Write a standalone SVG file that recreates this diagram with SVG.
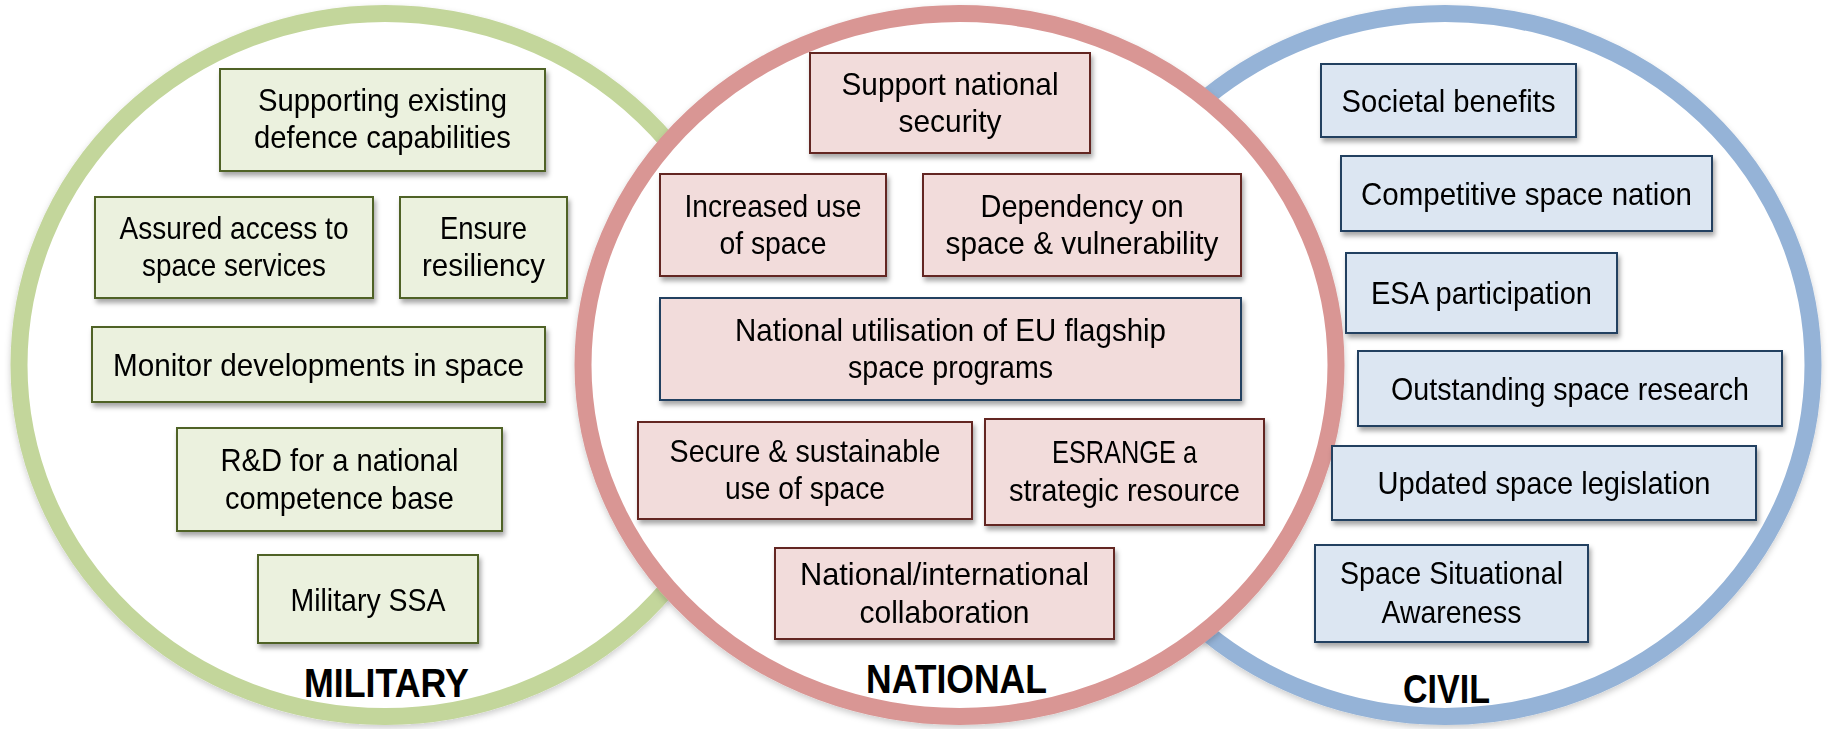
<svg xmlns="http://www.w3.org/2000/svg" width="1829" height="729" viewBox="0 0 1829 729">
<defs>
<filter id="sh" x="-10%" y="-10%" width="125%" height="135%">
<feDropShadow dx="2" dy="4" stdDeviation="2.5" flood-color="#000" flood-opacity="0.35"/>
</filter>
<filter id="csh" x="-5%" y="-5%" width="110%" height="112%">
<feDropShadow dx="0" dy="3" stdDeviation="3" flood-color="#000" flood-opacity="0.2"/>
</filter>
</defs>
<style>
.ring{stroke-width:17;fill:#fff}
.g{fill:#EBF1DE;stroke:#4F6228;stroke-width:2}
.r{fill:#F2DCDB;stroke:#632523;stroke-width:2}
.rb{fill:#F2DCDB;stroke:#243F60;stroke-width:2}
.b{fill:#DCE6F2;stroke:#243F60;stroke-width:2}
.box{filter:url(#sh)}
text{font-family:"Liberation Sans",Arial,sans-serif;font-size:30.5px;fill:#000;text-anchor:middle}
.lbl{font-weight:bold;font-size:40px}
</style>
<rect width="1829" height="729" fill="#fff"/>
<g id="circle-military" filter="url(#csh)"><ellipse class="ring" cx="385" cy="365" rx="366" ry="351.5" stroke="#C3D69B"/></g>
<g id="circle-civil" filter="url(#csh)"><ellipse class="ring" cx="1445" cy="365" rx="368" ry="351.5" stroke="#95B3D7"/></g>
<g id="circle-national" filter="url(#csh)"><ellipse class="ring" cx="959.5" cy="365" rx="376.5" ry="351.5" stroke="#D99694"/></g>
<g id="connectors"/>
<g id="m1" class="box"><rect class="g" x="220" y="69" width="325" height="102"/><text x="382.5" y="111" textLength="249" lengthAdjust="spacingAndGlyphs">Supporting existing</text><text x="382.5" y="148" textLength="257" lengthAdjust="spacingAndGlyphs">defence capabilities</text></g>
<g id="m2" class="box"><rect class="g" x="95" y="197" width="278" height="101"/><text x="234" y="238.5" textLength="229" lengthAdjust="spacingAndGlyphs">Assured access to</text><text x="234" y="276" textLength="184" lengthAdjust="spacingAndGlyphs">space services</text></g>
<g id="m3" class="box"><rect class="g" x="400" y="197" width="167" height="101"/><text x="483.5" y="238.5" textLength="87" lengthAdjust="spacingAndGlyphs">Ensure</text><text x="483.5" y="276" textLength="123" lengthAdjust="spacingAndGlyphs">resiliency</text></g>
<g id="m4" class="box"><rect class="g" x="92" y="327" width="453" height="75"/><text x="318.5" y="376" textLength="411" lengthAdjust="spacingAndGlyphs">Monitor developments in space</text></g>
<g id="m5" class="box"><rect class="g" x="177" y="428" width="325" height="103"/><text x="339.5" y="470.5" textLength="238" lengthAdjust="spacingAndGlyphs">R&amp;D for a national</text><text x="339.5" y="508.5" textLength="229" lengthAdjust="spacingAndGlyphs">competence base</text></g>
<g id="m6" class="box"><rect class="g" x="258" y="555" width="220" height="88"/><text x="368" y="610.5" textLength="155" lengthAdjust="spacingAndGlyphs">Military SSA</text></g>
<g id="n1" class="box"><rect class="r" x="810" y="53" width="280" height="100"/><text x="950" y="94.5" textLength="217" lengthAdjust="spacingAndGlyphs">Support national</text><text x="950" y="132" textLength="103" lengthAdjust="spacingAndGlyphs">security</text></g>
<g id="n2" class="box"><rect class="r" x="660" y="174" width="226" height="102"/><text x="773" y="216.5" textLength="177" lengthAdjust="spacingAndGlyphs">Increased use</text><text x="773" y="254" textLength="107" lengthAdjust="spacingAndGlyphs">of space</text></g>
<g id="n3" class="box"><rect class="r" x="923" y="174" width="318" height="102"/><text x="1082" y="216.5" textLength="203" lengthAdjust="spacingAndGlyphs">Dependency on</text><text x="1082" y="254" textLength="273" lengthAdjust="spacingAndGlyphs">space &amp; vulnerability</text></g>
<g id="n4" class="box"><rect class="rb" x="660" y="298" width="581" height="102"/><text x="950.5" y="340.5" textLength="431" lengthAdjust="spacingAndGlyphs">National utilisation of EU flagship</text><text x="950.5" y="378" textLength="205" lengthAdjust="spacingAndGlyphs">space programs</text></g>
<g id="n5" class="box"><rect class="r" x="638" y="422" width="334" height="97"/><text x="805" y="461.5" textLength="271" lengthAdjust="spacingAndGlyphs">Secure &amp; sustainable</text><text x="805" y="499" textLength="160" lengthAdjust="spacingAndGlyphs">use of space</text></g>
<g id="n6" class="box"><rect class="r" x="985" y="419" width="279" height="106"/><text x="1124.5" y="463" textLength="145" lengthAdjust="spacingAndGlyphs">ESRANGE a</text><text x="1124.5" y="501" textLength="231" lengthAdjust="spacingAndGlyphs">strategic resource</text></g>
<g id="n7" class="box"><rect class="r" x="775" y="548" width="339" height="91"/><text x="944.5" y="584.5" textLength="289" lengthAdjust="spacingAndGlyphs">National/international</text><text x="944.5" y="622.5" textLength="170" lengthAdjust="spacingAndGlyphs">collaboration</text></g>
<g id="c1" class="box"><rect class="b" x="1321" y="64" width="255" height="73"/><text x="1448.5" y="111.5" textLength="214" lengthAdjust="spacingAndGlyphs">Societal benefits</text></g>
<g id="c2" class="box"><rect class="b" x="1341" y="156" width="371" height="75"/><text x="1526.5" y="204.5" textLength="331" lengthAdjust="spacingAndGlyphs">Competitive space nation</text></g>
<g id="c3" class="box"><rect class="b" x="1346" y="253" width="271" height="80"/><text x="1481.5" y="304" textLength="221" lengthAdjust="spacingAndGlyphs">ESA participation</text></g>
<g id="c4" class="box"><rect class="b" x="1358" y="351" width="424" height="75"/><text x="1570" y="400" textLength="358" lengthAdjust="spacingAndGlyphs">Outstanding space research</text></g>
<g id="c5" class="box"><rect class="b" x="1332" y="446" width="424" height="74"/><text x="1544" y="494" textLength="333" lengthAdjust="spacingAndGlyphs">Updated space legislation</text></g>
<g id="c6" class="box"><rect class="b" x="1315" y="545" width="273" height="97"/><text x="1451.5" y="584" textLength="223" lengthAdjust="spacingAndGlyphs">Space Situational</text><text x="1451.5" y="622.5" textLength="140" lengthAdjust="spacingAndGlyphs">Awareness</text></g>
<g id="labels">
<text class="lbl" x="386.5" y="697" textLength="165" lengthAdjust="spacingAndGlyphs">MILITARY</text>
<text class="lbl" x="956.5" y="693" textLength="181" lengthAdjust="spacingAndGlyphs">NATIONAL</text>
<text class="lbl" x="1446.5" y="703" textLength="87" lengthAdjust="spacingAndGlyphs">CIVIL</text>
</g>
</svg>
